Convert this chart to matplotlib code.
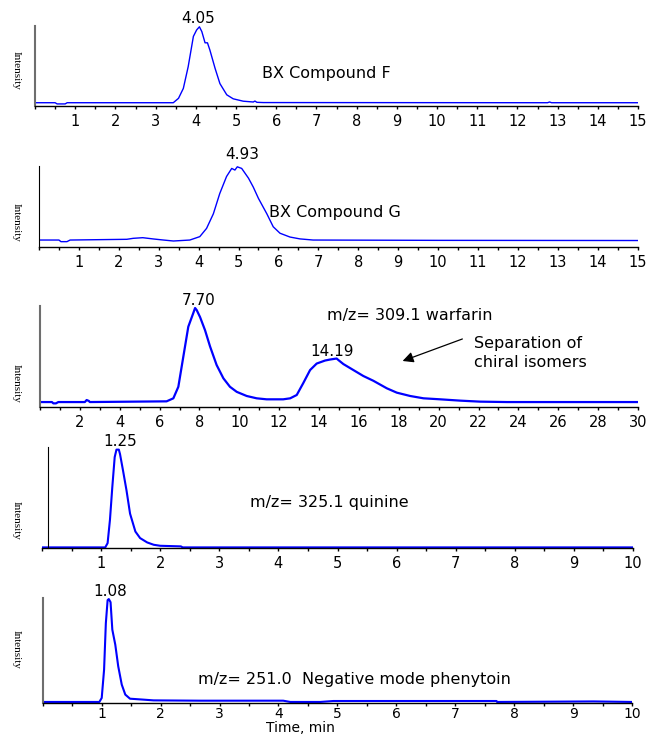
import matplotlib
matplotlib.use("Agg")
import matplotlib.pyplot as plt

# ---- data (time in min, intensity in % of panel height)
f_time = [0.0, 0.5, 0.55, 0.75, 0.8, 3.44, 3.57, 3.69, 3.81, 3.94, 4.02, 4.09, 4.15, 4.23, 4.29,
          4.35, 4.48, 4.60, 4.77, 4.93, 5.18, 5.43, 5.47, 5.52, 5.68, 12.75, 12.8, 12.85, 15.0]
f_int = [4.1, 4.1, 2.6, 2.6, 4.1, 4.1, 9.6, 22, 49, 87, 95, 99, 93, 79, 79,
         70, 47, 28, 14, 9, 6, 5, 6.2, 4.6, 4.3, 4.1, 5.0, 4.1, 4.1]

g_time = [0.0, 0.5, 0.55, 0.7, 0.78, 2.2, 2.36, 2.6, 2.87, 3.12, 3.37, 3.78, 4.03, 4.2, 4.37,
          4.53, 4.7, 4.83, 4.91, 4.97, 5.08, 5.25, 5.37, 5.5, 5.71, 5.87, 6.04, 6.29, 6.54,
          6.87, 10.0, 15.0]
g_int = [8.6, 8.6, 6.6, 6.6, 8.6, 9.5, 10.7, 11.5, 9.9, 8.6, 7.4, 8.6, 12.8, 23, 41,
         66, 87, 97, 95, 99, 97, 85, 74, 60, 41, 25, 17, 12.3, 10,
         8.6, 8.2, 8.0]

w_time = [0.0, 0.6, 0.67, 0.8, 0.92, 2.25, 2.34, 2.45, 2.5, 6.35, 6.69, 6.94, 7.19, 7.44, 7.69,
          7.78, 7.86, 8.03, 8.28, 8.53, 8.86, 9.2, 9.53, 9.87, 10.37, 10.87, 11.37, 12.2,
          12.55, 12.88, 13.2, 13.55, 13.88, 14.3, 14.55, 14.88, 15.0, 15.22, 15.72, 16.22,
          16.72, 17.4, 17.9, 18.57, 19.24, 20.08, 21.08, 22.08, 23.42, 30.0]
w_int = [4.9, 4.9, 3.6, 3.6, 4.9, 4.9, 6.9, 6.0, 4.9, 5.6, 8.6, 20, 49.8, 79.5, 93,
         98, 96, 89, 76, 60, 41.6, 28.4, 20, 15, 10.9, 8.6, 7.6, 7.6,
         8.6, 11.9, 23.4, 36.6, 43, 46, 47, 48, 46, 42.5, 36.6, 30.7,
         26, 18.5, 14.2, 10.9, 8.6, 7.6, 6.3, 5.3, 4.9, 4.9]

q_time = [0.0, 1.07, 1.11, 1.15, 1.19, 1.23, 1.26, 1.30, 1.32, 1.37, 1.43, 1.49, 1.58, 1.66,
          1.78, 1.89, 2.0, 2.35, 2.38, 10.0]
q_int = [0.6, 0.6, 4.8, 28, 60.6, 90, 97.4, 97.4, 93, 77, 57, 34, 16.3, 9.8,
         5.5, 3.2, 2.2, 1.6, 0.6, 0.6]

p_time = [0.0, 0.96, 1.0, 1.04, 1.07, 1.10, 1.12, 1.15, 1.18, 1.23, 1.28, 1.34, 1.40, 1.48,
          1.71, 1.88, 2.67, 4.08, 4.2, 4.71, 4.93, 7.7, 7.71, 9.35, 10.0]
p_int = [1.0, 1.0, 4.8, 31.7, 76, 98, 99, 96, 69.8, 55.6, 35, 17.5, 8, 4.1,
         3.2, 2.5, 2.2, 2.2, 1.0, 1.0, 1.9, 1.9, 1.0, 1.5, 1.0]

W, H = 649, 736
fig = plt.figure(figsize=(W / 100, H / 100), dpi=100)

def make_ax(x0, x1, top, bottom, pad=3, size=10.5):
    ax = fig.add_axes([x0 / W, (H - bottom) / H, (x1 - x0) / W, (bottom - top) / H])
    ax.spines["top"].set_visible(False)
    ax.spines["right"].set_visible(False)
    ax.spines["bottom"].set_linewidth(1.0)
    ax.set_yticks([])
    ax.set_ylim(0, 100)
    ax.tick_params(axis="x", which="both", direction="out", length=2.5, width=1.0,
                   labelsize=size, pad=pad)
    return ax

def intensity(y):
    fig.text(16 / W, 1 - y / H, "Intensity", rotation=-90, ha="center", va="center",
             family="Liberation Serif", fontsize=8)

# panel 1
ax1 = make_ax(35, 638, 26, 106)
ax1.plot(f_time, f_int, color="blue", lw=1.0)
ax1.set_xlim(0, 15)
ax1.set_xticks(range(1, 16))
ax1.set_xticks([i * 0.5 for i in range(31)], minor=True)
ax1.spines["left"].set_color("#6e6e6e")
ax1.spines["left"].set_linewidth(1.5)
ax1.text(4.05, 109, "4.05", ha="center", va="center", fontsize=11, clip_on=False)
ax1.text(7.26, 41, "BX Compound F", ha="center", va="center", fontsize=11.5)
intensity(70)

# panel 2
ax2 = make_ax(39, 637.5, 166, 247)
ax2.plot(g_time, g_int, color="blue", lw=1.0)
ax2.set_xlim(0, 15)
ax2.set_xticks(range(1, 16))
ax2.set_xticks([i * 0.5 for i in range(31)], minor=True)
ax2.spines["left"].set_color("black")
ax2.text(5.1, 113.6, "4.93", ha="center", va="center", fontsize=11, clip_on=False)
ax2.text(7.42, 43, "BX Compound G", ha="center", va="center", fontsize=11.5)
intensity(222)

# panel 3
ax3 = make_ax(40, 638, 306, 407)
ax3.plot(w_time, w_int, color="blue", lw=1.6)
ax3.set_xlim(0, 30)
ax3.set_xticks(range(2, 31, 2))
ax3.set_xticks(range(31), minor=True)
ax3.spines["left"].set_color("#6e6e6e")
ax3.spines["left"].set_linewidth(1.5)
ax3.text(7.98, 105, "7.70", ha="center", va="center", fontsize=11, clip_on=False)
ax3.text(14.63, 54.8, "14.19", ha="center", va="center", fontsize=11)
ax3.text(14.38, 91, "m/z= 309.1 warfarin", ha="left", va="center", fontsize=11.5)
ax3.text(21.78, 53.5, "Separation of\nchiral isomers", ha="left", va="center",
         fontsize=11.5, linespacing=1.3)
ax3.annotate("", xy=(18.06, 44.6), xytext=(21.32, 68.3),
             arrowprops=dict(arrowstyle="-|>", color="black", lw=0.9, mutation_scale=16))
intensity(383)

# panel 4
ax4 = make_ax(42, 633, 447, 548)
ax4.plot(q_time, q_int, color="blue", lw=1.5)
ax4.set_xlim(0, 10)
ax4.set_xticks(range(1, 11))
ax4.set_xticks([i * 0.5 for i in range(21)], minor=True)
ax4.spines["left"].set_position(("data", 0.1))
ax4.spines["left"].set_color("black")
ax4.text(1.32, 105, "1.25", ha="center", va="center", fontsize=11, clip_on=False)
ax4.text(3.52, 45.5, "m/z= 325.1 quinine", ha="left", va="center", fontsize=11.5)
intensity(520)

# panel 5
ax5 = make_ax(42.8, 632, 598, 703, pad=0.5, size=10)
ax5.plot(p_time, p_int, color="blue", lw=1.5)
ax5.set_xlim(0, 10)
ax5.set_xticks(range(1, 11))
ax5.set_xticks([i * 0.5 for i in range(21)], minor=True)
ax5.spines["left"].set_color("#6e6e6e")
ax5.spines["left"].set_linewidth(1.5)
ax5.text(1.14, 106, "1.08", ha="center", va="center", fontsize=11, clip_on=False)
ax5.text(2.64, 22, "m/z= 251.0  Negative mode phenytoin", ha="left", va="center",
         fontsize=11.5)
intensity(649)

fig.text(300 / W, 1 - 735 / H, "Time, min", ha="center", va="bottom", fontsize=10)

fig.savefig("out.png", dpi=100)
